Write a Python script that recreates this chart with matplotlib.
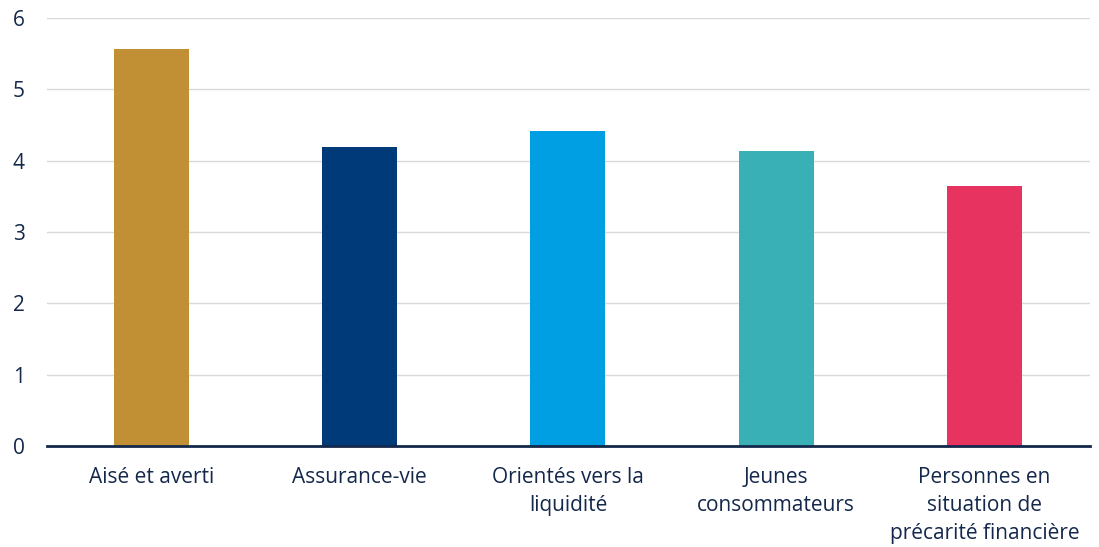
import matplotlib.pyplot as plt
from matplotlib.ticker import MultipleLocator

# --- DATA ---
categories = [
    "Aisé et averti",
    "Assurance-vie",
    "Orientés vers la\nliquidité",
    "Jeunes\nconsommateurs",
    "Personnes en\nsituation de\nprécarité financière",
]
values = [5.56, 4.19, 4.41, 4.14, 3.65]
bar_colors = ["#C18F34", "#003A78", "#009FE3", "#39B0B6", "#E6335F"]

TEXT_COLOR = "#14284B"

plt.rcParams['font.family'] = ['Open Sans', 'DejaVu Sans']

fig = plt.figure(figsize=(10.99, 5.47), dpi=100)
ax = fig.add_axes([47 / 1099, 1 - 446 / 547, (1090 - 47) / 1099, (446 - 18) / 547])

x = range(len(categories))
ax.bar(x, values, width=0.36, color=bar_colors, zorder=3)

ax.set_xlim(-0.502, 4.507)
ax.set_ylim(0, 6)
ax.yaxis.set_major_locator(MultipleLocator(1))
ax.grid(axis='y', color='#D9D9D9', linewidth=1, zorder=0)

for side in ['top', 'right', 'left']:
    ax.spines[side].set_visible(False)
ax.spines['bottom'].set_color(TEXT_COLOR)
ax.spines['bottom'].set_linewidth(2)
ax.spines['bottom'].set_zorder(4)

ax.set_xticks(list(x))
ax.set_xticklabels(categories, linespacing=1.45)
ax.tick_params(axis='both', length=0, labelsize=15, colors=TEXT_COLOR)
ax.tick_params(axis='x', pad=15)
ax.tick_params(axis='y', pad=16)

fig.savefig("out.png", dpi=100)
